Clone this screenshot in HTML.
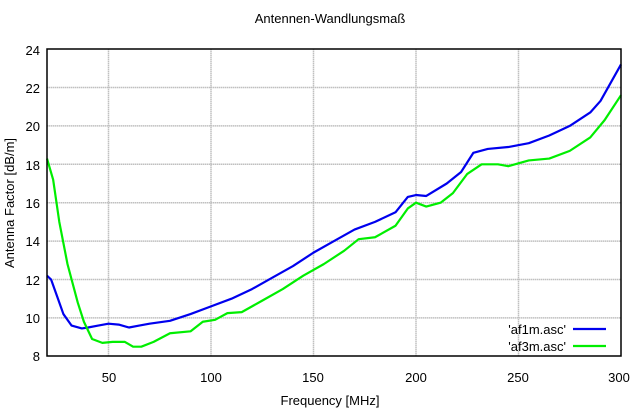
<!DOCTYPE html>
<html><head><meta charset="utf-8"><style>
html,body{margin:0;padding:0;background:#fff;}
svg{display:block;font-family:"Liberation Sans",Arial,sans-serif;}
</style></head><body>
<svg width="640" height="420" viewBox="0 0 640 420" xmlns="http://www.w3.org/2000/svg">
<rect width="640" height="420" fill="#fff"/>
<g stroke="#c0c0c0" stroke-width="1.5" stroke-dasharray="1.5 0.5">
<line x1="108.5" y1="49" x2="108.5" y2="356"/>
<line x1="211" y1="49" x2="211" y2="356"/>
<line x1="313.5" y1="49" x2="313.5" y2="356"/>
<line x1="416" y1="49" x2="416" y2="356"/>
<line x1="518.5" y1="49" x2="518.5" y2="356"/>
<line x1="47" y1="87.5" x2="621" y2="87.5"/>
<line x1="47" y1="125.9" x2="621" y2="125.9"/>
<line x1="47" y1="164.3" x2="621" y2="164.3"/>
<line x1="47" y1="202.7" x2="621" y2="202.7"/>
<line x1="47" y1="241.1" x2="621" y2="241.1"/>
<line x1="47" y1="279.5" x2="621" y2="279.5"/>
<line x1="47" y1="317.9" x2="621" y2="317.9"/>
</g>
<g transform="matrix(2.05 0 0 -19.2 6 509.9)" fill="none" stroke-width="2.2" stroke-linejoin="round">
<polyline vector-effect="non-scaling-stroke" stroke="#0000ee" points="20,12.2 22,12.0 25,11.1 28,10.2 32,9.6 37,9.45 40,9.5 45,9.6 50,9.7 55,9.65 60,9.5 65,9.6 70,9.7 80,9.85 90,10.2 100,10.6 110,11.0 120,11.5 130,12.1 140,12.7 150,13.4 160,14.0 170,14.6 180,15.0 190,15.5 196,16.3 200,16.4 205,16.35 215,17.0 222,17.6 228,18.6 235,18.8 245,18.9 255,19.1 265,19.5 275,20.0 285,20.7 290,21.3 300,23.2"/>
<polyline vector-effect="non-scaling-stroke" stroke="#00ee00" points="20,18.3 23,17.2 26,15.0 30,12.8 35,10.8 38,9.8 42,8.9 47,8.7 52,8.75 58,8.75 62,8.5 66,8.5 72,8.75 80,9.2 90,9.3 96,9.8 102,9.9 108,10.25 115,10.3 125,10.9 135,11.5 145,12.2 155,12.8 165,13.5 172,14.1 180,14.2 190,14.8 196,15.7 200,16.0 205,15.8 212,16.0 218,16.5 225,17.5 232,18.0 240,18.0 245,17.9 255,18.2 265,18.3 275,18.7 285,19.4 292,20.3 300,21.6"/>
</g>
<rect x="47" y="49" width="574" height="307" fill="none" stroke="#000" stroke-width="1.5"/>
<g font-size="13" fill="#000">
<text x="330" y="23" text-anchor="middle">Antennen-Wandlungsmaß</text>
<g text-anchor="end">
<text x="40" y="55">24</text><text x="40" y="93">22</text><text x="40" y="131">20</text>
<text x="40" y="170">18</text><text x="40" y="208">16</text><text x="40" y="246">14</text>
<text x="40" y="285">12</text><text x="40" y="323">10</text><text x="40" y="361">8</text>
</g>
<g text-anchor="middle">
<text x="109" y="382">50</text><text x="211" y="382">100</text><text x="313" y="382">150</text>
<text x="416" y="382">200</text><text x="518" y="382">250</text><text x="619" y="382">300</text>
<text x="330" y="405">Frequency [MHz]</text>
<text transform="translate(14,203) rotate(-90)">Antenna Factor [dB/m]</text>
</g>
<g text-anchor="end">
<text x="566" y="334">'af1m.asc'</text>
<text x="566" y="351">'af3m.asc'</text>
</g>
</g>
<line x1="573" y1="329" x2="606" y2="329" stroke="#0000ee" stroke-width="2.2"/>
<line x1="573" y1="346" x2="606" y2="346" stroke="#00ee00" stroke-width="2.2"/>
</svg>
</body></html>
